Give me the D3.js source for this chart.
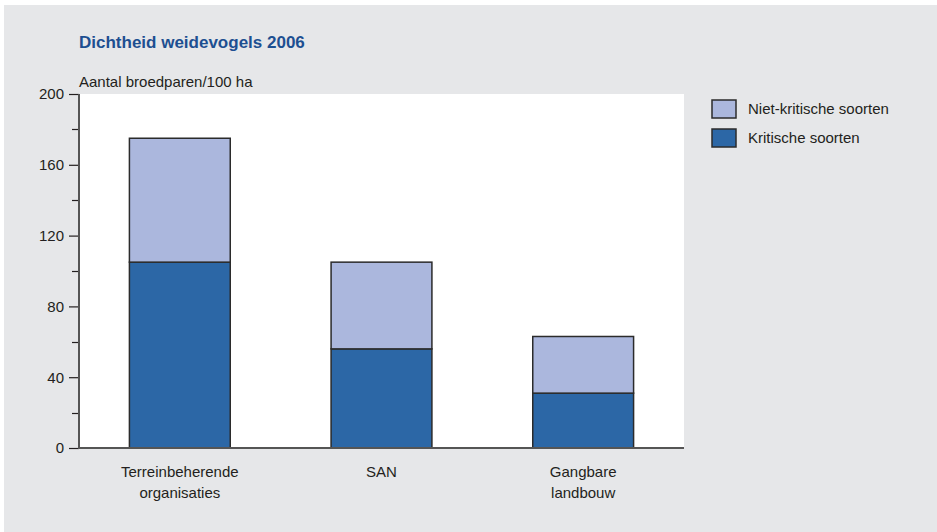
<!DOCTYPE html>
<html>
<head>
<meta charset="utf-8">
<script src="https://cdn.jsdelivr.net/npm/d3@7"></script>
<style>
  body { margin: 0; background: #fff; }
  svg { display: block; font-family: "Liberation Sans", Arial, sans-serif; }
</style>
</head>
<body>
<script>
var categories = [["Terreinbeherende", "organisaties"], ["SAN"], ["Gangbare", "landbouw"]];
var kritisch = [105, 56, 31];
var nietKritisch = [70, 49, 32];
var seriesNames = ["Niet-kritische soorten", "Kritische soorten"];
var yTicks = [0, 40, 80, 120, 160, 200];
var yMinor = [20, 60, 100, 140, 180];

var width = 937,
    height = 532;

var svg = d3.select("body").append("svg")
    .attr("width", width)
    .attr("height", height);

// grey panel
svg.append("rect")
    .attr("x", 4).attr("y", 5)
    .attr("width", 933).attr("height", 527)
    .attr("fill", "#e6e7e9");

var x0 = 79, x1 = 684, y0 = 448, y1 = 94;

var x = d3.scaleBand()
    .domain(d3.range(categories.length))
    .range([x0, x1])
    .paddingInner(0.5)
    .paddingOuter(0.25);

var y = d3.scaleLinear()
    .domain([0, 200])
    .range([y0, y1]);

svg.append("rect")
    .attr("x", x0).attr("y", y1)
    .attr("width", x1 - x0).attr("height", y0 - y1)
    .attr("fill", "#fff");

svg.append("text")
    .attr("x", x0).attr("y", 48)
    .attr("fill", "#1d4f91")
    .attr("font-weight", "bold")
    .attr("font-size", 17)
    .text("Dichtheid weidevogels 2006");

svg.append("text")
    .attr("x", x0).attr("y", 87)
    .attr("fill", "#231f20")
    .attr("font-size", 15)
    .text("Aantal broedparen/100 ha");

// bars
var stacks = categories.map(function(c, i) {
    return { i: i, k: kritisch[i], n: nietKritisch[i] };
});

var g = svg.append("g");
g.selectAll(".krit").data(stacks).enter().append("rect")
    .attr("x", function(d) { return x(d.i); })
    .attr("width", x.bandwidth())
    .attr("y", function(d) { return y(d.k); })
    .attr("height", function(d) { return y(0) - y(d.k); })
    .attr("fill", "#2c67a6")
    .attr("stroke", "#2b2b2b")
    .attr("stroke-width", 1.5);

g.selectAll(".niet").data(stacks).enter().append("rect")
    .attr("x", function(d) { return x(d.i); })
    .attr("width", x.bandwidth())
    .attr("y", function(d) { return y(d.k + d.n); })
    .attr("height", function(d) { return y(d.k) - y(d.k + d.n); })
    .attr("fill", "#abb7dd")
    .attr("stroke", "#2b2b2b")
    .attr("stroke-width", 1.5);

// y axis
var yAxis = svg.append("g")
    .attr("transform", "translate(" + x0 + ",0)")
    .call(d3.axisLeft(y).tickValues(yTicks).tickSize(10).tickPadding(5));
yAxis.select(".domain").remove();
yAxis.selectAll("text")
    .attr("font-size", 15)
    .attr("font-family", "Liberation Sans, Arial, sans-serif")
    .attr("fill", "#231f20");
yAxis.selectAll("line").attr("stroke", "#231f20").attr("stroke-width", 1.2);

svg.append("g").selectAll("line").data(yMinor).enter().append("line")
    .attr("x1", x0 - 7).attr("x2", x0)
    .attr("y1", function(d) { return Math.round(y(d)) + 0.5; })
    .attr("y2", function(d) { return Math.round(y(d)) + 0.5; })
    .attr("stroke", "#231f20").attr("stroke-width", 1.2);

// axis lines
svg.append("line")
    .attr("x1", x0).attr("x2", x0)
    .attr("y1", y1).attr("y2", y0)
    .attr("stroke", "#555").attr("stroke-width", 2);
svg.append("line")
    .attr("x1", x0 - 1).attr("x2", x1)
    .attr("y1", y0).attr("y2", y0)
    .attr("stroke", "#555").attr("stroke-width", 2);

// category labels
var cat = svg.append("g").selectAll("text").data(categories).enter().append("text")
    .attr("text-anchor", "middle")
    .attr("font-size", 15)
    .attr("fill", "#231f20")
    .attr("x", function(d, i) { return x(i) + x.bandwidth() / 2; })
    .attr("y", 477);
cat.selectAll("tspan").data(function(d) { return d; }).enter().append("tspan")
    .attr("x", function() { return d3.select(this.parentNode).attr("x"); })
    .attr("dy", function(d, i) { return i ? 21 : 0; })
    .text(function(d) { return d; });

// legend
var legendColors = ["#abb7dd", "#2c67a6"];
var leg = svg.append("g").selectAll("g").data(seriesNames).enter().append("g")
    .attr("transform", function(d, i) { return "translate(712," + (100 + i * 29) + ")"; });
leg.append("rect")
    .attr("width", 24).attr("height", 18)
    .attr("fill", function(d, i) { return legendColors[i]; })
    .attr("stroke", "#2b2b2b").attr("stroke-width", 1.5);
leg.append("text")
    .attr("x", 36).attr("y", 14)
    .attr("font-size", 15)
    .attr("fill", "#231f20")
    .text(function(d) { return d; });
</script>
</body>
</html>
